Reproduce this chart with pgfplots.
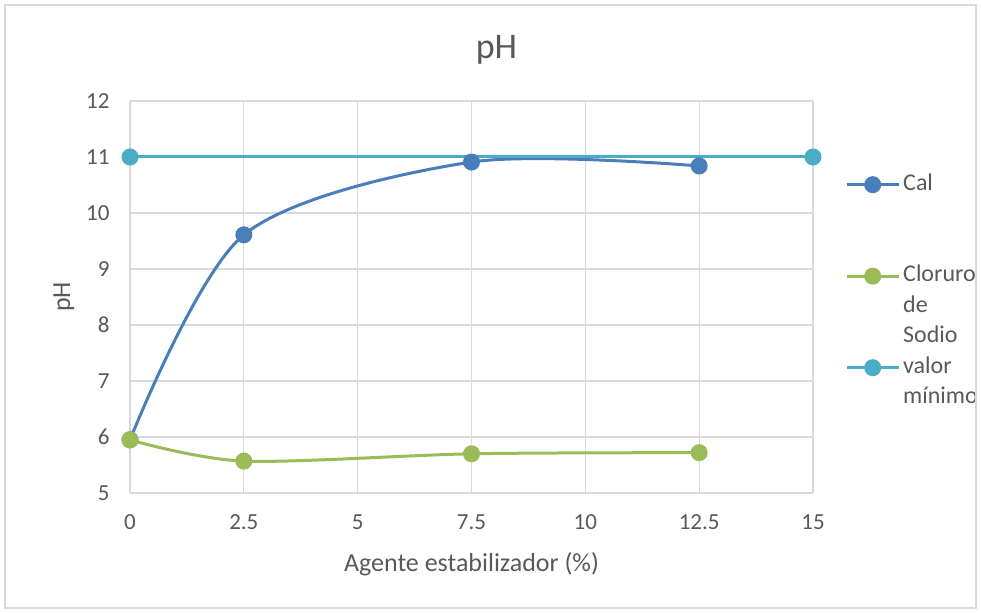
\documentclass[border=0pt]{standalone}
\usepackage{pgfplots}
\pgfplotsset{compat=1.18}
\usepackage{fontspec}
\setmainfont{Carlito}
\definecolor{cal}{HTML}{4A7EBB}
\definecolor{clo}{HTML}{9BBB59}
\definecolor{vmin}{HTML}{4BACC6}
\definecolor{txt}{HTML}{595959}
\definecolor{grd}{HTML}{D9D9D9}
\begin{document}
\begin{tikzpicture}[x=1pt,y=1pt]
\begin{axis}[
  scale only axis, width=683pt, height=392pt,
  xmin=0, xmax=15, ymin=5, ymax=12,
  xtick={0,2.5,...,15}, ytick={5,6,...,12},
  grid=major, major grid style={grd, line width=1.3pt},
  axis line style={grd, line width=1.3pt},
  axis x line*=bottom, axis y line*=left,
  tick style={draw=none},
  ticklabel style={font=\fontsize{23}{26}\selectfont, text=txt},
  /pgf/number format/assume math mode=true,
  xticklabel style={yshift=-18pt},
  yticklabel style={xshift=-17pt},
  xlabel={Agente estabilizador (\%)},
  ylabel={pH},
  label style={font=\fontsize{26}{30}\selectfont, text=txt},
  xlabel style={yshift=-16pt},
  ylabel style={yshift=5pt},
  title={pH},
  title style={font=\fontsize{36}{40}\selectfont, text=txt, yshift=27pt, xshift=25pt},
  clip=false,
  legend style={draw=none, fill=none, inner sep=0pt, at={(rel axis cs:1,1)}, anchor=north west,
    xshift=32pt, yshift=-72pt,
    font=\fontsize{24}{30}\selectfont, text=txt,
    nodes={inner sep=0pt, text height=17pt, text depth=6pt},
    row sep=7.5pt, column sep=3pt},
  legend cell align=left,
  legend image code/.code={
    \draw[#1, line width=3pt] (0pt,0pt) -- (52pt,0pt);
    \draw[#1, fill] (26pt,0pt) circle (7pt);},
]
\addplot[cal, line width=3pt, smooth, mark=*, mark size=7pt] coordinates {(0,5.95) (2.5,9.61) (7.5,10.91) (12.5,10.84)};
\addlegendentry{Cal}
\addlegendimage{empty legend}\addlegendentry{}
\addlegendimage{empty legend}\addlegendentry{}
\addplot[clo, line width=3pt, smooth, mark=*, mark size=7pt] coordinates {(0,5.95) (2.5,5.57) (7.5,5.70) (12.5,5.72)};
\addlegendentry{Cloruro}
\addlegendimage{empty legend}\addlegendentry{de}
\addlegendimage{empty legend}\addlegendentry{Sodio}
\addplot[vmin, line width=3pt, mark=*, mark size=7pt] coordinates {(0,11) (15,11)};
\addlegendentry{valor}
\addlegendimage{empty legend}\addlegendentry{mínimo}
\end{axis}
\draw[grd, line width=1.3pt] (-125,-115) rectangle (846,488);
\useasboundingbox (-130,-120) rectangle (852,493);
\end{tikzpicture}
\end{document}
